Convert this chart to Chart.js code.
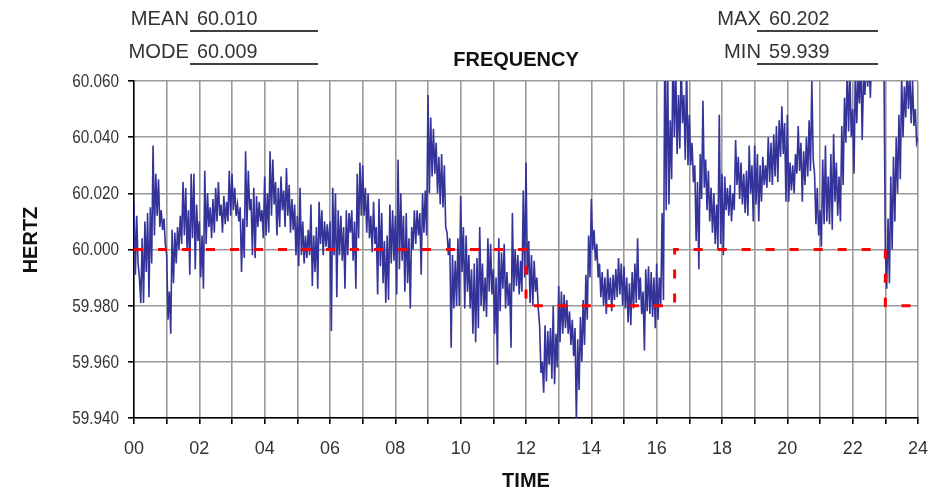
<!DOCTYPE html>
<html>
<head>
<meta charset="utf-8">
<script src="https://cdn.jsdelivr.net/npm/chart.js@4.4.1/dist/chart.umd.min.js"></script>
<style>
  html, body { margin: 0; padding: 0; background: #fff; }
  #wrap { position: relative; width: 952px; height: 493px; }
</style>
</head>
<body>
<div id="wrap"><canvas id="freqChart" width="952" height="493"></canvas></div>
<script>
// frequency in Hz: 24 readings per hour (every 2.5 min)
var freq_00_06 = [
  60.017,59.991,60.012,59.995,59.990,59.981,60.004,59.981,60.010,59.992,60.013,59.983,60.015,59.995,60.037,60.005,60.027,60.012,60.025,60.008,60.014,60.007,60.011,60.002,
  59.998,59.975,59.985,59.970,60.007,59.988,60.006,59.995,60.008,60.000,60.012,60.002,60.024,60.005,60.022,60.000,60.014,59.991,60.027,60.004,60.027,59.993,60.016,60.003,
  60.010,59.990,60.005,59.986,60.028,60.002,60.020,60.008,60.015,60.004,60.018,60.006,60.022,60.010,60.024,60.012,60.016,60.006,60.019,60.009,60.017,60.010,60.028,60.012,
  60.027,60.014,60.022,60.012,60.016,60.010,60.015,59.992,60.011,59.997,60.035,60.008,60.028,60.014,60.018,59.998,60.022,59.997,60.019,60.008,60.017,60.010,60.014,60.004,
  60.026,60.005,60.020,60.006,60.035,60.012,60.032,60.016,60.024,60.005,60.022,60.008,60.026,60.014,60.021,60.008,60.029,60.012,60.023,60.006,60.018,60.007,60.016,59.998,
  60.012,59.994,60.022,59.998,60.010,59.995,60.005,59.997,60.007,59.998,60.016,59.987,60.005,59.992,60.008,59.986,60.017,60.002,60.014,59.998,60.010,60.001,60.009,60.000
]
var freq_06_12 = [
  60.010,59.971,60.022,59.998,60.020,59.983,60.014,59.998,60.012,59.996,60.008,59.986,60.014,59.998,60.013,60.006,60.014,59.996,60.010,59.986,60.027,60.004,60.031,60.012,
  60.030,60.012,60.022,60.006,60.020,60.004,60.012,59.999,60.017,60.002,60.008,59.984,60.018,59.994,60.013,59.988,60.003,59.981,60.005,59.982,60.016,59.995,60.014,59.996,
  60.012,59.984,60.032,59.993,60.020,59.996,60.012,59.985,60.013,59.988,60.004,59.979,60.008,60.000,60.014,60.002,60.014,60.005,60.013,59.991,60.020,60.006,60.021,60.005,
  60.055,60.020,60.047,60.026,60.043,60.027,60.038,60.020,60.033,60.016,60.034,60.015,60.030,60.008,60.006,59.998,60.004,59.965,59.998,59.979,59.996,59.980,60.004,59.980,
  60.019,59.992,60.008,59.979,60.005,59.985,59.998,59.979,59.993,59.970,59.995,59.967,59.997,59.972,60.008,59.980,59.995,59.978,59.990,59.976,60.004,59.985,60.002,59.984,
  59.993,59.970,59.990,59.959,60.004,59.978,59.999,59.986,60.002,59.979,59.992,59.980,59.988,59.965,60.013,59.985,60.000,59.987,59.998,59.984,59.996,59.985,60.021,59.990
]
var freq_12_18 = [
  60.031,59.991,60.003,59.981,59.998,59.980,59.996,59.985,59.990,59.979,59.973,59.956,59.960,59.949,59.973,59.953,59.971,59.959,59.972,59.954,59.980,59.952,59.970,59.958,
  59.987,59.967,59.985,59.970,59.984,59.972,59.982,59.970,59.978,59.966,59.975,59.962,59.972,59.939,59.968,59.950,59.976,59.960,59.982,59.966,59.991,59.975,60.005,59.990,
  60.018,60.000,60.007,59.996,60.002,59.990,59.995,59.983,59.992,59.980,59.990,59.977,59.993,59.982,59.990,59.978,59.991,59.982,59.993,59.983,59.997,59.984,59.995,59.980,
  59.994,59.979,59.990,59.974,59.988,59.973,59.992,59.979,59.995,59.981,60.004,59.982,59.990,59.977,59.985,59.964,59.993,59.978,59.994,59.977,59.992,59.976,59.990,59.972,
  59.995,59.975,59.990,59.980,60.013,59.982,60.075,60.014,60.070,60.016,60.046,60.025,60.072,60.040,60.065,60.034,60.055,60.036,60.068,60.045,60.055,60.032,60.065,60.030,
  60.048,60.030,60.038,60.024,60.030,60.003,60.024,59.993,60.034,60.018,60.053,60.022,60.032,60.014,60.028,60.010,60.022,60.006,60.020,60.002,60.016,60.000,60.048,60.002
]
var freq_18_24 = [
  60.027,59.998,60.026,60.014,60.022,60.012,60.023,60.010,60.020,60.014,60.039,60.023,60.033,60.018,60.031,60.016,60.027,60.013,60.028,60.012,60.037,60.020,60.030,60.010,
  60.037,60.016,60.034,60.010,60.030,60.017,60.033,60.023,60.030,60.022,60.040,60.024,60.038,60.023,60.041,60.026,60.044,60.024,60.046,60.033,60.051,60.034,60.045,60.017,
  60.048,60.017,60.031,60.021,60.030,60.020,60.034,60.027,60.044,60.028,60.038,60.017,60.035,60.023,60.040,60.026,60.046,60.028,60.060,60.032,60.027,60.009,60.022,60.005,
  60.014,60.001,60.032,60.009,60.037,60.010,60.026,60.009,60.034,60.007,60.041,60.017,60.031,60.012,60.026,60.010,60.044,60.023,60.054,60.038,60.065,60.042,60.063,60.040,
  60.050,60.027,60.065,60.045,60.062,60.052,60.070,60.039,60.062,60.055,60.070,60.058,60.068,60.054,60.072,60.061,60.080,60.065,60.085,60.070,60.080,60.066,60.075,60.065,
  60.000,59.986,60.011,59.988,60.026,60.000,60.033,60.010,60.040,60.020,60.048,60.025,60.062,60.040,60.058,60.047,60.065,60.050,60.062,60.045,60.060,60.044,60.050,60.038,
  60.040
]
var readings_per_hour = 24

// scheduled frequency (time error correction), step line
var sched_time = [0, 12, 12, 16.55, 16.55, 23, 23, 24]
var sched_hz = [60.000, 60.000, 59.980, 59.980, 60.000, 60.000, 59.980, 59.980]

var stat_names = ['MEAN', 'MODE', 'MAX', 'MIN']
var stat_values = ['60.010', '60.009', '60.202', '59.939']

var chart_title = 'FREQUENCY'
var x_title = 'TIME'
var y_title = 'HERTZ'

var fontFam = "'Liberation Sans', Arial, sans-serif"

var freq = freq_00_06.concat(freq_06_12, freq_12_18, freq_18_24)
var freqPoints = freq.map(function (v, i) {
  return { x: i / readings_per_hour, y: v }
})
var schedPoints = sched_time.map(function (t, i) {
  return { x: t, y: sched_hz[i] }
})

// narrow-looking text: squeeze horizontally around the anchor point
function squeezeText (ctx, text, x, y, sx) {
  ctx.save()
  ctx.translate(x, y)
  ctx.scale(sx, 1)
  ctx.fillText(text, 0, 0)
  ctx.restore()
}

// header block, y tick labels (narrow) and the y title
var extraText = {
  id: 'extraText',
  afterDraw: function (chart) {
    var ctx = chart.ctx
    ctx.save()
    ctx.font = '21px ' + fontFam
    ctx.fillStyle = '#333'
    ctx.textBaseline = 'middle'
    var rows = [19, 52]
    var lines = [31, 64]
    for (var i = 0; i < 4; i++) {
      var left = i < 2
      var row = i % 2
      var labX = left ? 189 : 761
      var valX = left ? 197 : 769
      ctx.textAlign = 'right'
      squeezeText(ctx, stat_names[i], labX, rows[row], 0.96)
      ctx.textAlign = 'left'
      squeezeText(ctx, stat_values[i], valX, rows[row], 0.94)
      ctx.beginPath()
      ctx.strokeStyle = '#000'
      ctx.lineWidth = 1.5
      if (left) {
        ctx.moveTo(190, lines[row]); ctx.lineTo(318, lines[row])
      } else {
        ctx.moveTo(757, lines[row]); ctx.lineTo(878, lines[row])
      }
      ctx.stroke()
    }
    ctx.font = 'bold 20px ' + fontFam
    ctx.fillStyle = '#111'
    ctx.textAlign = 'center'
    squeezeText(ctx, chart_title, 516, 60, 1.0)

    // y tick labels
    var ys = chart.scales.y
    ctx.font = '18px ' + fontFam
    ctx.fillStyle = '#333'
    ctx.textAlign = 'right'
    ys.ticks.forEach(function (t) {
      squeezeText(ctx, t.value.toFixed(3), ys.right - 15, ys.getPixelForValue(t.value) + 1, 0.85)
    })

    // y title
    ctx.font = 'bold 20px ' + fontFam
    ctx.fillStyle = '#111'
    ctx.textAlign = 'center'
    ctx.translate(31, 240)
    ctx.rotate(-Math.PI / 2)
    ctx.fillText(y_title, 0, 0)
    ctx.restore()
  }
}

var ctx = document.getElementById('freqChart').getContext('2d')
var freqChart = new Chart(ctx, {
  type: 'line',
  data: {
    datasets: [
      {
        label: 'Schedule',
        data: schedPoints,
        borderColor: '#ff0000',
        borderWidth: 3,
        borderDash: [9, 15],
        pointRadius: 0,
        tension: 0,
        order: 0
      },
      {
        label: 'Frequency',
        data: freqPoints,
        borderColor: '#333399',
        borderWidth: 1.6,
        pointRadius: 0,
        tension: 0,
        order: 1
      }
    ]
  },
  options: {
    responsive: false,
    animation: false,
    devicePixelRatio: 1,
    layout: { padding: { top: 81, right: 34, left: 0, bottom: 0 } },
    plugins: {
      legend: { display: false },
      tooltip: { enabled: false }
    },
    scales: {
      x: {
        type: 'linear',
        min: 0,
        max: 24,
        afterFit: function (s) { s.height = 75 },
        ticks: {
          stepSize: 1,
          autoSkip: false,
          maxRotation: 0,
          padding: 14,
          color: '#333',
          font: { family: fontFam, size: 18 },
          callback: function (v) {
            return v % 2 === 0 ? (v < 10 ? '0' + v : '' + v) : ''
          }
        },
        grid: { color: '#999', lineWidth: 1.6, tickColor: '#000', tickLength: 6 },
        border: { color: '#000', width: 1.5 },
        title: {
          display: true,
          text: x_title,
          color: '#111',
          font: { family: fontFam, size: 20, weight: 'bold' },
          padding: { top: 0, bottom: 0 }
        }
      },
      y: {
        min: 59.94,
        max: 60.06,
        afterFit: function (s) { s.width = 134 },
        ticks: {
          stepSize: 0.02,
          display: false
        },
        grid: { color: '#999', lineWidth: 1.6, tickColor: '#000', tickLength: 6 },
        border: { color: '#000', width: 1.5 },
        title: { display: false }
      }
    }
  },
  plugins: [extraText]
})
</script>
</body>
</html>
